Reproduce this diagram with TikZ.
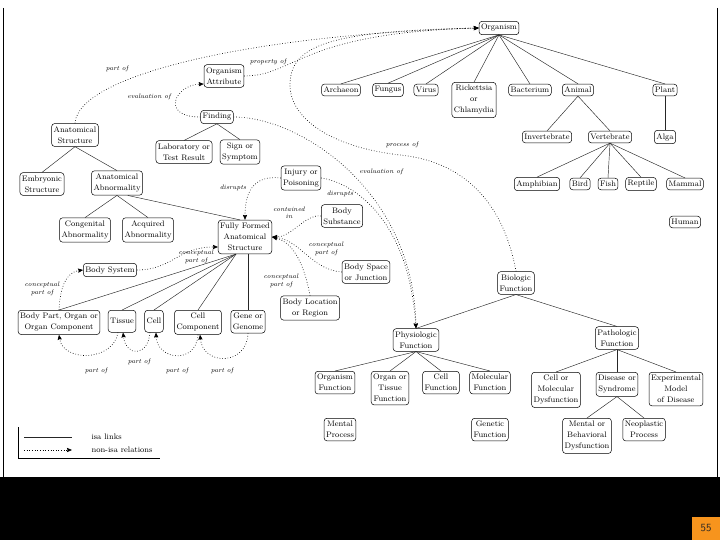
\documentclass[tikz,border=0pt]{standalone}
\usetikzlibrary{arrows,arrows.meta}
\usetikzlibrary{calc}
\tikzset{>={Stealth[length=5pt,width=4.2pt,inset=0.6pt]}}
\definecolor{slideOrange}{HTML}{F7941D}
\tikzset{
  semtype/.style={draw, rounded corners=3pt, align=center, line width=0.5pt,
    font=\fontsize{8}{11}\selectfont, inner xsep=2pt, inner ysep=3pt},
  isalink/.style={line width=0.45pt, black!85},
  relation/.style={->, dotted, line width=0.65pt},
  rellabel/.style={font=\fontsize{6.5}{7.5}\selectfont\itshape, align=center, inner sep=0pt},
}

\begin{document}
\begin{tikzpicture}[x=1pt, y=-1pt]
    \useasboundingbox (0,0) rectangle (720,540);

    % frame and slide footer
    \draw[line width=0.9pt] (3,8) -- (3,477);
    \draw[line width=0.9pt] (717,8) -- (717,477);
    \fill[black] (0,477) rectangle (720,540);
    \fill[slideOrange] (692,517) rectangle (720,540);
    \node[font=\fontsize{11}{13}\selectfont\sffamily, text=black!85] (pagenum) at (706,528.5) {55};

    % organisms
    \node[semtype] (org) at (499,28) {Organism};
    \node[semtype] (archaeon) at (341,90) {Archaeon};
    \node[semtype] (fungus) at (388,90) {Fungus};
    \node[semtype] (virus) at (426,90) {Virus};
    \node[semtype] (rick) at (474,100) {Rickettsia\\or\\Chlamydia};
    \node[semtype] (bact) at (530,90) {Bacterium};
    \node[semtype] (animal) at (578,90) {Animal};
    \node[semtype] (plant) at (665,90) {Plant};
    \node[semtype] (invert) at (547,137) {Invertebrate};
    \node[semtype] (vert) at (610,137) {Vertebrate};
    \node[semtype] (alga) at (665,137) {Alga};
    \node[semtype] (amph) at (537,184) {Amphibian};
    \node[semtype] (bird) at (580,184) {Bird};
    \node[semtype] (fish) at (608,184) {Fish};
    \node[semtype] (reptile) at (641,184) {Reptile};
    \node[semtype] (mammal) at (685,184) {Mammal};
    \node[semtype] (human) at (685,222) {Human};

    % findings and anatomy
    \node[semtype] (orgattr) at (224,76) {Organism\\Attribute};
    \node[semtype] (finding) at (217,117) {Finding};
    \node[semtype] (labres) at (184,152) {Laboratory or\\Test Result};
    \node[semtype] (sign) at (240,152) {Sign or\\Symptom};
    \node[semtype] (anatstr) at (75,135) {Anatomical\\Structure};
    \node[semtype] (embryo) at (42,184) {Embryonic\\Structure};
    \node[semtype] (anatabn) at (117,183) {Anatomical\\Abnormality};
    \node[semtype] (congabn) at (85,230) {Congenital\\Abnormality};
    \node[semtype] (acqabn) at (148,230) {Acquired\\Abnormality};
    \node[semtype] (ffas) at (245,237) {Fully Formed\\Anatomical\\Structure};
    \node[semtype] (injury) at (301,178) {Injury or\\Poisoning};
    \node[semtype] (bodysub) at (342,216) {Body\\Substance};
    \node[semtype] (bodyspace) at (366,272) {Body Space\\or Junction};
    \node[semtype] (bodyloc) at (310,308) {Body Location\\or Region};
    \node[semtype] (bodysys) at (110,270) {Body System};
    \node[semtype, anchor=north] (bodypart) at (59,310) {Body Part, Organ or\\Organ Component};
    \node[semtype, anchor=north, minimum height=22pt] (tissue) at (122,310) {Tissue};
    \node[semtype, anchor=north, minimum height=22pt] (cell) at (154,310) {Cell};
    \node[semtype, anchor=north] (cellcomp) at (198,310) {Cell\\Component};
    \node[semtype, anchor=north] (gene) at (248,310) {Gene or\\Genome};

    % functions
    \node[semtype] (biofn) at (516,283) {Biologic\\Function};
    \node[semtype] (physfn) at (416,340) {Physiologic\\Function};
    \node[semtype] (pathfn) at (617,338) {Pathologic\\Function};
    \node[semtype, anchor=north] (orgfn) at (335,371) {Organism\\Function};
    \node[semtype, anchor=north] (orgtisfn) at (390,371) {Organ or\\Tissue\\Function};
    \node[semtype, anchor=north] (cellfn) at (441,371) {Cell\\Function};
    \node[semtype, anchor=north] (molfn) at (490,371) {Molecular\\Function};
    \node[semtype, anchor=north] (mentproc) at (340,418) {Mental\\Process};
    \node[semtype, anchor=north] (genfn) at (490,418) {Genetic\\Function};
    \node[semtype, anchor=north] (celldys) at (556,372) {Cell or\\Molecular\\Dysfunction};
    \node[semtype, anchor=north] (disease) at (617,372) {Disease or\\Syndrome};
    \node[semtype, anchor=north] (expmodel) at (676,372) {Experimental\\Model\\of Disease};
    \node[semtype, anchor=north] (mentdys) at (587,418) {Mental or\\Behavioral\\Dysfunction};
    \node[semtype, anchor=north] (neoplast) at (644,418) {Neoplastic\\Process};

    % isa links
    \foreach \kid in {archaeon,fungus,virus,rick,bact,animal,plant}
      \draw[isalink] (org.south) -- (\kid.north);
    \foreach \kid in {invert,vert}
      \draw[isalink] (animal.south) -- (\kid.north);
    \draw[isalink] (plant.south) -- (alga.north);
    \foreach \kid in {amph,bird,fish,reptile,mammal}
      \draw[isalink] (vert.south) -- (\kid.north);
    \foreach \kid in {labres,sign}
      \draw[isalink] (finding.south) -- (\kid.north);
    \foreach \kid in {embryo,anatabn}
      \draw[isalink] (anatstr.south) -- (\kid.north);
    \foreach \kid in {congabn,acqabn}
      \draw[isalink] (anatabn.south) -- (\kid.north);
    \draw[isalink] ([xshift=-15pt]anatabn.south east) -- ([xshift=-5pt]ffas.north);
    \foreach \kid in {bodypart,tissue,cell,cellcomp}
      \draw[isalink] ([xshift=-9pt]ffas.south) -- (\kid.north);
    \draw[isalink] (ffas.south -| gene.north) -- (gene.north);
    \foreach \kid in {physfn,pathfn}
      \draw[isalink] (biofn.south) -- (\kid.north);
    \foreach \kid in {orgfn,orgtisfn,cellfn,molfn}
      \draw[isalink] (physfn.south) -- (\kid.north);
    \foreach \kid in {celldys,disease,expmodel}
      \draw[isalink] (pathfn.south) -- (\kid.north);
    \foreach \kid in {mentdys,neoplast}
      \draw[isalink] (disease.south) -- (\kid.north);

    % non-isa relations
    \draw[relation] (anatstr.north) .. controls (78,75) and (250,35) .. (org.west);
    \node[rellabel] (lpartof) at (117,69) {part of};
    \draw[relation] (orgattr.east) .. controls (295,76) and (300,33) .. (org.west);
    \node[rellabel] (lpropof) at (268,62) {property of};
    \draw[relation] (finding.west) .. controls (160,117) and (175,85) .. ([yshift=-8pt]orgattr.west);
    \node[rellabel] (levalof) at (149,97) {evaluation of};
    \draw[relation] (biofn.north) .. controls (505,210) and (470,162) .. (400,155)
      .. controls (330,147) and (290,118) .. (290,85)
      .. controls (290,45) and (330,31) .. (org.west);
    \node[rellabel] (lprocof) at (402,145) {process of};
    \draw[relation] (finding.east) .. controls (300,117) and (413,190) .. (physfn.north);
    \node[rellabel] (levalof2) at (381,172) {evaluation of};
    \draw[relation] (injury.east) .. controls (350,182) and (408,215) .. (physfn.north);
    \node[rellabel] (ldisr) at (340,194) {disrupts};
    \draw[relation] (injury.west) .. controls (255,175) and (245,190) .. (ffas.north);
    \node[rellabel] (ldisr2) at (233,188) {disrupts};
    \draw[relation] (bodysub.west) .. controls (305,214) and (292,237) .. (ffas.east);
    \node[rellabel] (lcont) at (289,213) {contained\\in};
    \draw[relation] (bodyspace.west) .. controls (312,270) and (300,240) .. (ffas.east);
    \node[rellabel] (lcpart) at (326,249) {conceptual\\part of};
    \draw[relation] (bodyloc.north) .. controls (305,268) and (295,243) .. (ffas.east);
    \node[rellabel] (lcpart2) at (281,281) {conceptual\\part of};
    \draw[relation] (bodysys.east) .. controls (172,270) and (178,247) .. ([yshift=-10pt]ffas.west);
    \node[rellabel] (lcpart3) at (196,257) {conceptual\\part of};
    \draw[relation] (bodypart.north) .. controls (60,286) and (67,272) .. (bodysys.west);
    \node[rellabel] (lcpart4) at (42,289) {conceptual\\part of};

    % part of arcs under the anatomy row
    \draw[relation] ([xshift=-4pt]tissue.south) .. controls (113,362) and (63,362) .. (bodypart.south);
    \node[rellabel] (lpart1) at (96,371) {part of};
    \draw[relation] ([xshift=-4pt]cell.south) .. controls (148,357) and (126,357) .. ([xshift=1pt]tissue.south);
    \node[rellabel] (lpart2) at (139,362) {part of};
    \draw[relation] (cellcomp.south) .. controls (196,365) and (157,360) .. ([xshift=2pt]cell.south);
    \node[rellabel] (lpart3) at (177,371) {part of};
    \draw[relation] (gene.south) .. controls (247,366) and (203,366) .. ([xshift=2pt]cellcomp.south);
    \node[rellabel] (lpart4) at (222,371) {part of};

    % legend
    \draw (18,427) -- (18,458) -- (160,458);
    \coordinate (isaA) at (24,437);
    \coordinate (isaB) at (72,437);
    \coordinate (relA) at (24,450);
    \coordinate (relB) at (72,450);
    \draw[isalink] (isaA) -- (isaB);
    \draw[relation] (relA) -- (relB);
    \node[anchor=west, font=\fontsize{8}{10}\selectfont] (lisa) at (88,437) {isa links};
    \node[anchor=west, font=\fontsize{8}{10}\selectfont] (lnonisa) at (88,450) {non-isa relations};
\end{tikzpicture}
\end{document}
